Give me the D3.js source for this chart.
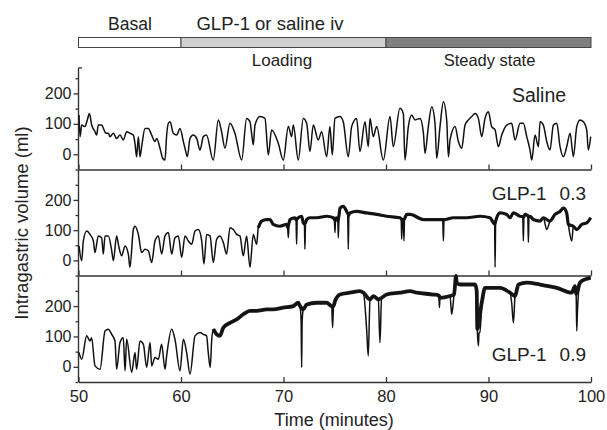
<!DOCTYPE html>
<html><head><meta charset="utf-8">
<script src="https://cdn.jsdelivr.net/npm/d3@7"></script>
<style>
body{margin:0;background:#fff}
svg{display:block}
text{font-family:"Liberation Sans",Arial,sans-serif;fill:#222}
</style>
</head><body>
<svg id="c" width="607" height="430"></svg>
<script>
// ---------- data ----------
const xTicks = [50, 60, 70, 80, 90, 100];
const yTicks = [0, 100, 200];
const yMinorTicks = [-50, 50, 150, 250];
const phaseStarts = [50, 60, 80];
const phaseEnds = [60, 80, 100];
const phaseNames = ["Basal", "GLP-1 or saline iv"];
const stageNames = ["Loading", "Steady state"];
const panelNames = ["Saline", "GLP-1", "GLP-1"];
const panelDoses = ["", "0.3", "0.9"];
// time from which each trace is a steady (fuzzy) plateau
const plateauFrom = [null, 67.5, 63.1];

// [time (min), intragastric volume (ml)]
const saline = [[50.05,129],[50.15,58],[50.31,96],[50.63,91],[50.86,113],[51.06,134],[51.29,96],[51.61,74],[51.77,63],[51.93,96],
[52.26,96],[52.49,80],[52.68,69],[52.91,69],[53.07,58],[53.40,69],[53.72,52],[54.05,63],[54.37,47],[54.70,74],
[55.02,69],[55.35,63],[55.51,36],[55.67,-8],[55.84,58],[56.00,-8],[56.16,25],[56.49,85],[56.81,85],[57.14,63],
[57.46,42],[57.63,52],[57.95,20],[58.21,-13],[58.44,-19],[58.60,63],[58.77,102],[58.93,107],[59.25,69],[59.58,63],
[59.90,85],[60.23,42],[60.39,20],[60.62,-8],[60.88,52],[61.20,63],[61.53,52],[61.85,14],[62.18,58],[62.48,63],
[63.15,-19],[63.64,113],[63.96,74],[64.29,20],[64.78,102],[65.26,69],[65.92,-19],[66.40,118],[66.73,107],[66.89,69],
[67.05,31],[67.22,96],[67.70,124],[68.19,118],[68.52,-2],[68.84,80],[69.49,36],[69.98,-19],[70.47,91],[70.79,58],
[70.96,96],[71.44,-19],[71.93,118],[72.26,102],[72.58,9],[72.91,96],[73.39,47],[73.72,74],[74.21,-8],[74.53,91],
[74.76,-2],[75.02,118],[75.51,124],[75.83,107],[76.32,-8],[76.65,91],[77.13,118],[77.46,9],[77.95,107],[78.27,25],
[78.44,118],[78.76,58],[79.09,91],[79.74,-19],[80.39,124],[80.71,25],[81.36,151],[81.69,134],[81.85,-19],
[82.18,91],[82.51,129],[82.83,113],[83.32,118],[83.65,69],[83.81,3],[84.13,91],[84.46,156],[84.78,102],[84.95,-13],
[85.27,91],[85.60,173],[85.92,113],[86.09,-8],[86.25,47],[86.74,91],[87.06,42],[87.39,20],[87.71,96],[88.04,113],
[88.36,124],[88.69,134],[89.01,118],[89.34,58],[89.66,118],[89.99,140],[90.31,91],[90.64,80],[90.96,25],[91.29,63],
[91.78,96],[92.26,102],[92.59,47],[93.08,102],[93.40,102],[93.73,58],[94.05,14],[94.22,-19],[94.54,63],[94.87,25],
[95.03,107],[95.35,96],[95.68,42],[96.00,14],[96.33,96],[96.66,102],[96.98,25],[97.31,-8],[97.63,25],[97.96,69],
[98.28,-8],[98.61,91],[98.93,113],[99.26,107],[99.58,80],[99.74,14],[99.97,58]];

const glp03 = [[50.05,48],[50.31,-1],[50.47,64],[50.80,97],[51.12,86],[51.45,64],[51.61,26],[51.93,81],[52.26,75],[52.42,21],
[52.59,81],[52.91,81],[53.24,32],[53.40,-1],[53.72,81],[53.89,53],[54.21,15],[54.54,48],[54.86,21],[55.02,-23],
[55.35,102],[55.51,113],[55.84,86],[56.16,26],[56.49,37],[56.81,32],[57.14,-7],[57.46,64],[57.79,81],[58.11,21],
[58.44,81],[58.77,92],[59.09,21],[59.41,75],[59.74,81],[60.07,10],[60.39,81],[60.72,64],[61.04,53],[61.37,97],
[61.69,102],[62.02,64],[62.24,-12],[62.50,86],[62.83,81],[63.15,-7],[63.48,70],[63.80,81],[64.13,59],[64.45,21],
[64.78,108],[65.10,102],[65.43,86],[65.75,81],[66.08,15],[66.40,81],[66.73,-23],[67.05,86],[67.38,53],[67.54,108],
[67.87,130],[68.35,135],[68.68,135],[69.00,119],[69.65,113],[70.31,119],[70.40,110],[70.47,75],[70.55,125],[70.63,135],
[71.12,141],[71.22,135],[71.28,53],[71.34,138],[71.44,141],[71.77,146],[71.93,124],[72.04,120],[72.09,37],[72.15,125],
[72.26,135],[72.58,141],[73.23,141],[74.21,146],[74.86,141],[74.96,135],[75.02,92],[75.08,138],[75.18,141],[75.30,130],
[75.35,75],[75.42,150],[75.51,173],[75.83,179],[76.16,162],[76.26,155],[76.32,37],[76.38,150],[76.48,157],[77.13,162],
[78.11,157],[79.09,152],[80.06,146],[81.36,141],[81.48,138],[81.53,70],[81.60,135],[81.69,135],[81.75,64],[81.81,138],
[82.02,152],[82.35,152],[83.65,135],[84.62,135],[85.53,135],[85.60,64],[85.66,135],[86.57,141],[87.87,141],[89.17,146],
[90.15,141],[90.48,124],[90.60,120],[90.64,-23],[90.70,130],[90.80,141],[91.13,157],[91.78,152],[92.10,141],[92.43,157],
[93.08,146],[93.34,145],[93.40,64],[93.46,145],[93.56,152],[93.83,148],[93.89,59],[93.95,145],[94.05,146],[94.38,135],
[95.03,130],[95.35,141],[95.68,102],[96.00,130],[96.49,152],[96.98,162],[97.31,173],[97.63,157],[97.79,119],[98.12,64],
[98.28,113],[98.61,102],[99.10,119],[99.58,124],[99.97,141]];

const glp09 = [[50.05,47],[50.31,25],[50.80,102],[51.12,85],[51.28,96],[51.61,3],[52.10,-8],[52.59,118],[52.91,124],[53.24,107],
[53.56,85],[53.72,-8],[54.05,80],[54.37,96],[54.54,-13],[54.70,91],[55.19,-18],[55.51,47],[55.67,-8],[56.00,85],
[56.33,74],[56.65,-2],[56.98,80],[57.14,3],[57.46,31],[57.79,25],[58.11,74],[58.44,-8],[58.60,36],[59.09,124],
[59.41,91],[59.90,-13],[60.23,91],[60.55,47],[60.88,-24],[61.37,102],[61.86,113],[62.18,107],[62.50,102],[62.65,50],
[62.85,-2],[63.00,90],[63.15,124],[63.48,107],[63.80,102],[64.13,129],[64.78,145],[65.43,156],[66.08,173],[66.73,184],
[67.38,184],[68.35,189],[69.00,189],[69.98,195],[70.96,200],[71.44,211],[71.61,200],[71.72,150],[71.77,-2],[71.82,150],
[71.93,189],[72.26,205],[73.23,211],[74.21,211],[74.70,200],[74.79,129],[74.88,200],[75.02,216],[75.51,238],[76.48,244],
[77.46,249],[77.79,244],[78.11,124],[78.27,36],[78.44,222],[78.76,233],[79.25,222],[79.41,80],[79.57,227],[80.06,238],
[81.36,244],[82.34,249],[83.00,244],[84.62,238],[85.15,235],[85.21,195],[85.27,227],[86.25,233],[86.41,173],[86.64,238],
[86.83,299],[86.90,277],[87.22,271],[87.87,271],[88.69,271],[88.85,250],[88.91,124],[89.01,69],[89.08,113],[89.17,113],
[89.34,211],[89.66,260],[91.13,260],[92.10,244],[92.26,211],[92.43,145],[92.59,233],[92.92,271],[93.73,277],[95.03,271],
[96.66,260],[98.12,244],[98.44,266],[98.55,240],[98.61,118],[98.67,178],[98.93,277],[99.42,288],[99.97,293]];

const seriesList = [saline, glp03, glp09];

// ---------- layout ----------
const svg = d3.select("#c");
const x = d3.scaleLinear().domain([50, 100]).range([78.5, 591]);
const panelRanges = [[169.5, 63], [275.5, 169.7], [382, 275.7]];
const yScales = panelRanges.map(r => d3.scaleLinear().domain([-50, 300]).range(r));
const axisCol = "#333";

// top phase bar
const bar = svg.append("g");
const phaseFills = ["#ffffff", "#d0d0d0", "#808080"];
bar.selectAll("rect").data(phaseStarts).join("rect")
  .attr("x", (d) => x(d)).attr("y", 37.5)
  .attr("width", (d, i) => x(phaseEnds[i]) - x(d)).attr("height", 10)
  .attr("fill", (d, i) => phaseFills[i]).attr("stroke", "#444").attr("stroke-width", 1);

svg.append("text").attr("x", 130).attr("y", 29.5).attr("text-anchor", "middle")
  .style("font-size", "17.5px").text(phaseNames[0]);
svg.append("text").attr("x", 270).attr("y", 29.5).attr("text-anchor", "middle")
  .style("font-size", "18.5px").text(phaseNames[1]);
svg.append("text").attr("x", 282).attr("y", 66).attr("text-anchor", "middle")
  .style("font-size", "17px").text(stageNames[0]);
svg.append("text").attr("x", 489.5).attr("y", 66).attr("text-anchor", "middle")
  .style("font-size", "16.5px").text(stageNames[1]);

// panels
const line = (ys) => d3.line().x(d => x(d[0])).y(d => ys(d[1])).curve(d3.curveMonotoneX);
const labelBaselines = [101.7, 200, 360.7];

yScales.forEach((ys, i) => {
  const g = svg.append("g");
  const ax = g.append("g").attr("transform", `translate(${x(50)},0)`)
    .call(d3.axisLeft(ys).tickValues(yTicks).tickSize(5).tickPadding(2).tickFormat(d3.format("d")));
  ax.select(".domain").remove();
  ax.selectAll("line").attr("stroke", axisCol).attr("stroke-width", 1.3);
  ax.selectAll("text").style("font-size", "16px").attr("fill", "#222");
  const mn = g.append("g").attr("transform", `translate(${x(50)},0)`)
    .call(d3.axisLeft(ys).tickValues(yMinorTicks).tickSize(3).tickFormat(""));
  mn.select(".domain").remove();
  mn.selectAll("line").attr("stroke", axisCol).attr("stroke-width", 1.3);
  const topVal = i === 0 ? 284 : 300;
  g.append("line").attr("x1", x(50)).attr("x2", x(50))
    .attr("y1", ys(-50)).attr("y2", ys(topVal))
    .attr("stroke", axisCol).attr("stroke-width", 1.4);
  if (i === 0) {
    g.append("line").attr("x1", x(50)).attr("x2", x(50) + 3.5)
      .attr("y1", ys(topVal)).attr("y2", ys(topVal))
      .attr("stroke", axisCol).attr("stroke-width", 1.3);
  }
  const bx = g.append("g").attr("transform", `translate(0,${ys(-50)})`)
    .call(d3.axisBottom(x).tickValues(xTicks).tickSizeInner(-5).tickSizeOuter(0)
      .tickPadding(8.5).tickFormat(i === 2 ? d3.format("d") : ""));
  bx.select(".domain").attr("stroke", axisCol).attr("stroke-width", 1.4);
  bx.selectAll("line").attr("stroke", axisCol).attr("stroke-width", 1.3);
  bx.selectAll("text").style("font-size", "16.5px").attr("fill", "#222");

  const s = seriesList[i];
  // fuzzy plateau band: plateau points only (sharp dips skipped)
  if (plateauFrom[i] !== null) {
    const band = s.filter(d => {
      if (d[0] < plateauFrom[i]) return false;
      const near = s.filter(e => Math.abs(e[0] - d[0]) <= 0.7).map(e => e[1]);
      return d[1] >= d3.median(near) - 18;
    });
    g.append("path").datum(band)
      .attr("d", d3.line().x(d => x(d[0])).y(d => ys(d[1])).curve(d3.curveMonotoneX))
      .attr("fill", "none").attr("stroke", "#1a1a1a").attr("stroke-width", i === 2 ? 3.8 : 3.2)
      .attr("stroke-linejoin", "round");
  }
  g.append("path").datum(s)
    .attr("d", line(ys))
    .attr("fill", "none").attr("stroke", "#111").attr("stroke-width", 1.5)
    .attr("stroke-linejoin", "round");

  if (i === 0) {
    svg.append("text").attr("x", 539).attr("y", labelBaselines[i]).attr("text-anchor", "middle")
      .style("font-size", "19.5px").text(panelNames[i]);
  } else {
    const t = svg.append("text").attr("x", 491.7).attr("y", labelBaselines[i])
      .style("font-size", "19px");
    t.append("tspan").text(panelNames[i]);
    t.append("tspan").attr("dx", 13).text(panelDoses[i]);
  }
});

svg.append("text").attr("x", 334).attr("y", 426).attr("text-anchor", "middle")
  .style("font-size", "18px").text("Time (minutes)");
svg.append("text").attr("transform", "translate(28,223) rotate(-90)").attr("text-anchor", "middle")
  .style("font-size", "18.5px").text("Intragastric volume (ml)");
</script>
</body></html>
